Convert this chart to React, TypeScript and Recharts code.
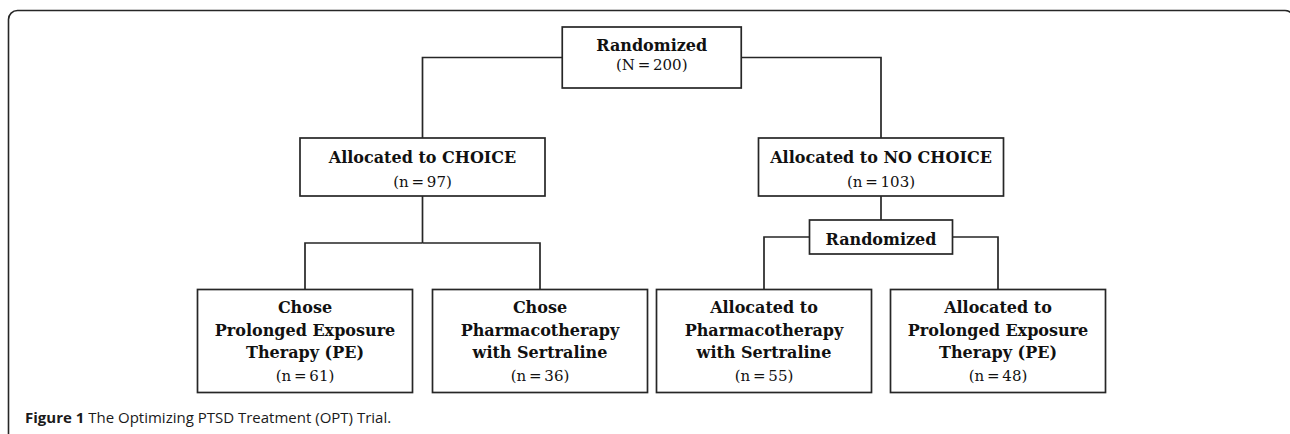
import { ComposedChart, XAxis, YAxis, Scatter, Line, ReferenceArea } from "recharts"

// flowchart content
const nodeTitles: string[][] = [
  ["Randomized"],
  ["Allocated to CHOICE"],
  ["Allocated to NO CHOICE"],
  ["Chose", "Prolonged Exposure", "Therapy (PE)"],
  ["Chose", "Pharmacotherapy", "with Sertraline"],
  ["Randomized"],
  ["Allocated to", "Pharmacotherapy", "with Sertraline"],
  ["Allocated to", "Prolonged Exposure", "Therapy (PE)"],
]
const nodeCounts: (string | null)[] = ["N = 200", "n = 97", "n = 103", "n = 61", "n = 36", null, "n = 55", "n = 48"]
const nodeParents: (number | null)[] = [null, 0, 0, 1, 1, 2, 5, 5]
const nodeTiers = [0, 1, 1, 3, 3, 2, 3, 3]
const leafOrder = [3, 4, 6, 7]
const busParents = [1]
const caption = { bold: "Figure 1", rest: " The Optimizing PTSD Treatment (OPT) Trial." }

// layout
const W = 1290
const H = 434
const leafX = [305, 540, 764, 998]
const tierY = [57.5, 167, 237, 341]
const tierW = [179, 245, 143, 215]
const tierH = [61, 58, 34, 103]
const tierGap = [19.5, 24, 0, 22.7]
const tierShift = [-2, 2.5, 2, 0.5]
const BUS_Y = 243
const INK = "#262626"

const nodeX: number[] = nodeTitles.map(() => NaN)
leafOrder.forEach((n, i) => (nodeX[n] = leafX[i]))
for (let i = nodeTitles.length - 1; i >= 0; i--) {
  if (!isNaN(nodeX[i])) continue
  const kids = nodeParents.map((p, k) => (p === i ? k : -1)).filter((k) => k >= 0)
  nodeX[i] = kids.reduce((s, k) => s + nodeX[k], 0) / kids.length
}

const nodes = nodeTitles.map((_, i) => ({ i, x: nodeX[i], y: tierY[nodeTiers[i]] }))

// elbow connectors between boxes
const connectors: { x: number; y: number }[][] = []
nodes.forEach((p) => {
  const kids = nodes.filter((c) => nodeParents[c.i] === p.i)
  if (!kids.length) return
  const pt = nodeTiers[p.i]
  const pw = tierW[pt]
  const ph = tierH[pt]
  if (kids.length === 1) {
    const c = kids[0]
    connectors.push([
      { x: p.x, y: p.y + ph / 2 },
      { x: c.x, y: c.y - tierH[nodeTiers[c.i]] / 2 },
    ])
  } else if (busParents.includes(p.i)) {
    connectors.push([
      { x: p.x, y: p.y + ph / 2 },
      { x: p.x, y: BUS_Y },
    ])
    kids.forEach((c) =>
      connectors.push([
        { x: p.x, y: BUS_Y },
        { x: c.x, y: BUS_Y },
        { x: c.x, y: c.y - tierH[nodeTiers[c.i]] / 2 },
      ])
    )
  } else {
    kids.forEach((c) =>
      connectors.push([
        { x: c.x < p.x ? p.x - pw / 2 : p.x + pw / 2, y: p.y },
        { x: c.x, y: p.y },
        { x: c.x, y: c.y - tierH[nodeTiers[c.i]] / 2 },
      ])
    )
  }
})

function NodeBox(props: any) {
  const { cx, cy, payload } = props
  const t = nodeTiers[payload.i]
  const w = tierW[t]
  const h = tierH[t]
  const lines = nodeTitles[payload.i].map((s) => ({ s, bold: true }))
  const count = nodeCounts[payload.i]
  if (count) lines.push({ s: `(${count})`, bold: false })
  const gap = tierGap[t]
  const y0 = cy + tierShift[t] - ((lines.length - 1) * gap) / 2
  return (
    <g>
      <rect x={cx - w / 2} y={cy - h / 2} width={w} height={h} fill="#fff" stroke={INK} strokeWidth={1.7} />
      {lines.map((l, k) => (
        <text
          key={k}
          x={cx}
          y={y0 + k * gap}
          textAnchor="middle"
          dominantBaseline="central"
          fontFamily="'DejaVu Serif', serif"
          fontWeight={l.bold ? 700 : 400}
          fontSize={l.bold ? 16 : 15}
          wordSpacing={l.bold ? 0 : -2}
          fill="#111"
        >
          {l.s}
        </text>
      ))}
    </g>
  )
}

export default function App() {
  return (
    <div style={{ position: "absolute", left: 0, top: 0, width: W, height: H, background: "#fff" }}>
      <ComposedChart width={W} height={H} margin={{ top: 0, right: 0, bottom: 0, left: 0 }}>
        <XAxis type="number" dataKey="x" domain={[0, W]} hide />
        <YAxis type="number" dataKey="y" domain={[0, H]} reversed hide />
        <ReferenceArea
          x1={8.5}
          x2={W + 4}
          y1={10.5}
          y2={H + 20}
          ifOverflow="visible"
          fill="none"
          stroke={INK}
          strokeWidth={1.6}
          radius={9}
        />
        {connectors.map((c, k) => (
          <Line
            key={k}
            data={c}
            dataKey="y"
            type="linear"
            stroke={INK}
            strokeWidth={1.7}
            dot={false}
            activeDot={false}
            isAnimationActive={false}
          />
        ))}
        <Scatter data={nodes} dataKey="y" shape={NodeBox} isAnimationActive={false} />
      </ComposedChart>
      <svg width={W} height={H} style={{ position: "absolute", left: 0, top: 0, pointerEvents: "none" }}>
        <text x={25} y={423} fontFamily="'Open Sans', sans-serif" fontSize={15} fill="#1a1a1a">
          <tspan fontWeight={700}>{caption.bold}</tspan>
          {caption.rest}
        </text>
      </svg>
    </div>
  )
}
